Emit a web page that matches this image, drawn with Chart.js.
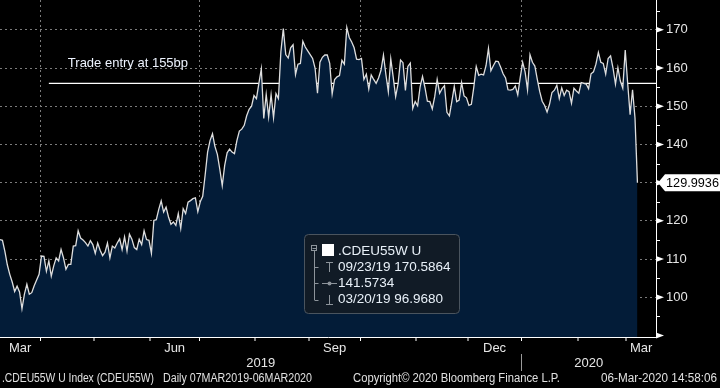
<!DOCTYPE html>
<html>
<head>
<meta charset="utf-8">
<script src="https://cdn.jsdelivr.net/npm/chart.js@4"></script>
<style>
html, body { margin: 0; padding: 0; background: #000; overflow: hidden; }
</style>
</head>
<body>
<canvas id="spreadChart" width="720" height="388"></canvas>
<script>
// first business day of the daily series, one value per weekday
const startDate = '2019-03-07';

const spread = [
    115.1,114.9,112.0,108.5,106.0,104.0,101.5,102.9,101.4,96.968,
    100.8,103.4,100.8,101.2,103.0,104.5,106.0,110.8,110.7,106.8,
    109.5,105.5,108.2,110.3,109.5,112.5,110.3,107.3,108.6,108.6,
    113.4,113.5,117.4,115.5,115.0,114.3,113.4,114.8,113.8,111.5,
    114.2,112.3,110.9,111.8,114.2,110.3,113.4,112.9,114.2,115.3,
    112.5,115.8,112.1,116.5,115.2,113.0,112.5,115.2,113.8,117.4,
    115.1,114.9,111.5,120.1,120.3,123.0,
    125.2,122.3,123.6,121.0,119.1,119.7,118.8,121.9,118.0,123.2,
    121.9,124.9,125.3,125.8,126.0,122.4,125.0,126.4,
    132.0,138.0,141.0,142.8,139.5,137.4,133.5,129.2,134.5,137.8,
    138.8,138.0,137.6,141.0,143.5,144.0,145.0,147.5,149.2,150.0,
    152.8,152.0,156.0,159.8,146.8,153.1,147.2,153.0,147.0,153.3,
    152.0,164.2,170.3,163.5,162.6,165.3,166.1,158.3,161.0,161.2,
    167.0,165.5,164.5,163.5,162.5,160.0,153.4,161.5,
    162.8,163.4,163.4,161.2,153.2,157.0,157.7,158.0,162.0,161.0,
    170.5864,168.0,166.8,165.3,162.3,162.2,162.5,157.0,158.4,154.5,
    158.2,157.0,156.0,157.4,159.4,163.4,158.3,153.8,162.4,157.6,
    152.5,155.9,162.1,161.4,154.1,160.4,161.3,149.4,151.2,150.1,
    155.0,157.8,154.9,151.3,151.2,149.3,152.5,157.0,153.4,154.6,
    155.4,148.4,147.5,151.2,155.2,151.2,151.6,156.2,152.7,152.2,
    150.2,150.5,155.0,160.4,158.1,
    158.4,158.2,160.6,165.1,159.3,160.6,161.8,161.7,160.2,158.5,
    157.4,154.3,154.2,154.4,155.3,153.0,157.5,161.5,159.0,154.3,
    163.5,161.5,160.5,157.0,153.8,151.3,150.2,148.5,150.5,153.6,
    154.2,155.5,152.0,154.8,152.8,154.2,153.8,150.8,154.7,154.0,
    153.4,156.2,156.0,155.8,154.6,158.5,159.0,161.0,164.1,161.5,
    161.2,158.4,162.5,163.2,160.0,155.8,160.1,156.6,154.7,164.7,
    156.0,147.8,154.3,146.9,129.9936
];

const tradeLevel = 156;
const tradeStart = 20;
const tradeLabel = 'Trade entry at 155bp';

const yMin = 89.6, yMax = 177.8;
const xMax = 268.6;
const yLabelled = [100, 110, 120, 130, 140, 150, 160, 170];
const yMajor = [90, 100, 110, 120, 130, 140, 150, 160, 170];
const yMinor = [95, 105, 115, 125, 135, 145, 155, 165, 175];

const monthNames = ['Jan','Feb','Mar','Apr','May','Jun','Jul','Aug','Sep','Oct','Nov','Dec'];
const labelMonths = ['Mar', 'Jun', 'Sep', 'Dec'];
const gridMonths = ['Jan', 'Apr', 'Jul', 'Oct'];

const legendTitle = '.CDEU55W U';
const legendRows = ['09/23/19 170.5864', '141.5734', '03/20/19 96.9680'];
const footerLeft = '.CDEU55W U Index (CDEU55W)';
const footerRange = 'Daily 07MAR2019-06MAR2020';
const footerCopy = 'Copyright\u00a9 2020 Bloomberg Finance L.P.';
const footerStamp = '06-Mar-2020 14:58:06';

// business days
let days = [];
let d = new Date(startDate + 'T00:00:00Z');
while (days.length < spread.length) {
    let wd = d.getUTCDay();
    if (wd > 0 && wd < 6) days.push(new Date(d));
    d = new Date(d.getTime() + 86400000);
}

// month boundaries between consecutive days
let bounds = [];
for (let i = 1; i < days.length; i++) {
    if (days[i].getUTCMonth() !== days[i - 1].getUTCMonth()) {
        bounds.push({ pos: i - 0.5, month: monthNames[days[i].getUTCMonth()], newYear: days[i].getUTCMonth() === 0 });
    }
}

let monthSpans = [];
let edges = [0].concat(bounds.map(b => b.pos), [xMax]);
for (let k = 0; k < edges.length - 1; k++) {
    let first = k === 0 ? days[0] : days[Math.ceil(edges[k])];
    monthSpans.push({ from: edges[k], to: edges[k + 1], name: monthNames[first.getUTCMonth()] });
}
let yearBounds = bounds.filter(b => b.newYear).map(b => b.pos);
let yearEdges = [0].concat(yearBounds, [xMax]);
let yearSpans = [];
for (let k = 0; k < yearEdges.length - 1; k++) {
    let first = k === 0 ? days[0] : days[Math.ceil(yearEdges[k])];
    yearSpans.push({ from: yearEdges[k], to: yearEdges[k + 1], name: String(first.getUTCFullYear()) });
}

const FONT = '"Liberation Sans", Arial, sans-serif';
Chart.defaults.font.family = FONT;

const decor = {
    id: 'decor',
    afterDraw(chart) {
        const ctx = chart.ctx;
        const xs = chart.scales.x, ys = chart.scales.y;
        const area = chart.chartArea;
        ctx.save();

        // y tick marks
        ctx.fillStyle = '#ffffff';
        ctx.strokeStyle = '#ffffff';
        ctx.lineWidth = 1;
        yMinor.forEach(v => {
            let y = Math.round(ys.getPixelForValue(v)) + 0.5;
            ctx.beginPath(); ctx.moveTo(area.right, y); ctx.lineTo(area.right + 4, y); ctx.stroke();
        });
        yMajor.forEach(v => {
            let y = ys.getPixelForValue(v);
            ctx.beginPath();
            ctx.moveTo(area.right, y - 3); ctx.lineTo(area.right + 8, y); ctx.lineTo(area.right, y + 3);
            ctx.closePath(); ctx.fill();
        });

        // month and year labels
        ctx.fillStyle = '#e6e6e6';
        ctx.font = '13px ' + FONT;
        ctx.textAlign = 'center';
        ctx.textBaseline = 'middle';
        monthSpans.forEach(s => {
            if (labelMonths.includes(s.name)) {
                let cx = (xs.getPixelForValue(s.from) + xs.getPixelForValue(s.to)) / 2;
                ctx.fillText(s.name, cx, area.bottom + 11);
            }
        });
        yearSpans.forEach(s => {
            let cx = (xs.getPixelForValue(s.from) + xs.getPixelForValue(s.to)) / 2;
            ctx.fillText(s.name, cx, area.bottom + 26);
        });
        ctx.strokeStyle = '#9a9a9a';
        yearBounds.forEach(p => {
            let x = Math.round(xs.getPixelForValue(p)) + 0.5;
            ctx.beginPath(); ctx.moveTo(x, area.bottom + 17); ctx.lineTo(x, area.bottom + 34); ctx.stroke();
        });

        // footer, squeezed a bit like the terminal font
        ctx.font = '12px ' + FONT;
        ctx.fillStyle = '#e0e0e0';
        ctx.textAlign = 'left';
        let fy = area.bottom + 42;
        ctx.fillText(footerLeft, 2, fy, 152);
        ctx.fillText(footerRange, 163, fy, 149);
        ctx.fillText(footerCopy, 353, fy, 207);
        ctx.textAlign = 'right';
        ctx.fillText(footerStamp, 717, fy, 116);

        // trade entry label
        ctx.font = '13px ' + FONT;
        ctx.textAlign = 'left';
        ctx.fillStyle = '#eef4ff';
        ctx.fillText(tradeLabel, xs.getPixelForValue(tradeStart) + 19, ys.getPixelForValue(tradeLevel) - 20);

        // last value flag
        let last = spread[spread.length - 1];
        let ly = ys.getPixelForValue(last);
        ctx.fillStyle = '#ffffff';
        ctx.beginPath();
        ctx.moveTo(area.right + 2, ly);
        ctx.lineTo(area.right + 9, ly - 8.5);
        ctx.lineTo(720, ly - 8.5);
        ctx.lineTo(720, ly + 8.5);
        ctx.lineTo(area.right + 9, ly + 8.5);
        ctx.closePath(); ctx.fill();
        ctx.fillStyle = '#000000';
        ctx.font = '13px ' + FONT;
        ctx.fillText(last.toFixed(4), area.right + 10, ly + 0.5, 53);

        // legend box
        let bx = 304.5, by = 234.5, bw = 155, bh = 79;
        ctx.beginPath();
        ctx.roundRect(bx, by, bw, bh, 4);
        ctx.fillStyle = '#111b26';
        ctx.fill();
        ctx.strokeStyle = '#4a545e';
        ctx.stroke();

        ctx.strokeStyle = '#8d949b';
        ctx.strokeRect(311.5, 245.5, 5, 5);
        ctx.beginPath(); ctx.moveTo(312.5, 248.5); ctx.lineTo(316, 248.5); ctx.stroke();
        ctx.fillStyle = '#ffffff';
        ctx.fillRect(322, 244, 12, 12);

        let rows = [267, 283, 299.5];
        ctx.beginPath();
        ctx.moveTo(314.5, 251); ctx.lineTo(314.5, rows[2] + 0.5);
        rows.forEach(r => { ctx.moveTo(314.5, Math.round(r) + 0.5); ctx.lineTo(318.5, Math.round(r) + 0.5); });
        ctx.stroke();
        // high / average / low symbols
        ctx.beginPath();
        ctx.moveTo(326, 262.5); ctx.lineTo(333, 262.5);
        ctx.moveTo(329.5, 262.5); ctx.lineTo(329.5, 272);
        ctx.moveTo(322, 283.5); ctx.lineTo(337, 283.5);
        ctx.moveTo(329.5, 295); ctx.lineTo(329.5, 304);
        ctx.moveTo(326, 304.5); ctx.lineTo(333, 304.5);
        ctx.stroke();
        ctx.beginPath(); ctx.arc(329.5, 283.5, 2, 0, Math.PI * 2); ctx.fillStyle = '#8d949b'; ctx.fill();

        ctx.fillStyle = '#e8f0f8';
        ctx.font = '13.5px ' + FONT;
        ctx.textAlign = 'left';
        ctx.fillText(legendTitle, 338, 251);
        legendRows.forEach((t, k) => ctx.fillText(t, 338, rows[k]));

        ctx.restore();
    }
};

var ctx = document.getElementById('spreadChart');
var spreadChart = new Chart(ctx, {
    type: 'line',
    data: {
        datasets: [{
            data: spread.map((v, i) => ({ x: i, y: v })),
            borderColor: '#dedede',
            borderWidth: 1.3,
            backgroundColor: '#031c38',
            fill: 'start',
            pointRadius: 0,
            tension: 0
        }, {
            data: [{ x: tradeStart, y: tradeLevel }, { x: xMax, y: tradeLevel }],
            borderColor: '#ffffff',
            borderWidth: 1.3,
            fill: false,
            pointRadius: 0
        }]
    },
    options: {
        responsive: false,
        animation: false,
        layout: { padding: 0 },
        plugins: { legend: { display: false }, tooltip: { enabled: false } },
        scales: {
            x: {
                type: 'linear',
                min: 0,
                max: xMax,
                z: 1,
                afterBuildTicks: scale => { scale.ticks = bounds.map(b => ({ value: b.pos })); },
                afterFit: scale => { scale.height = 51; scale.paddingLeft = 0; scale.paddingRight = 0; },
                ticks: { display: false },
                grid: {
                    color: '#7c7c7c',
                    lineWidth: c => (c.tick && bounds[c.index] && gridMonths.includes(bounds[c.index].month)) ? 1 : 0,
                    drawTicks: true,
                    tickLength: 4,
                    tickColor: '#ffffff',
                    tickWidth: 1
                },
                border: { display: true, color: '#ffffff', width: 1, dash: [2, 3] }
            },
            y: {
                type: 'linear',
                position: 'right',
                min: yMin,
                max: yMax,
                z: 1,
                afterBuildTicks: scale => { scale.ticks = yMajor.concat(yMinor).sort((a, b) => a - b).map(v => ({ value: v })); },
                afterFit: scale => { scale.width = 64; scale.paddingTop = 0; scale.paddingBottom = 0; },
                ticks: {
                    autoSkip: false,
                    color: '#e6e6e6',
                    font: { size: 13 },
                    padding: 3,
                    callback: v => yLabelled.includes(v) ? String(v) : ''
                },
                grid: {
                    color: '#7c7c7c',
                    lineWidth: c => (c.tick && yLabelled.includes(c.tick.value)) ? 1 : 0,
                    drawTicks: true,
                    tickLength: 7,
                    tickWidth: 0
                },
                border: { display: true, color: '#ffffff', width: 1, dash: [2, 3] }
            }
        }
    },
    plugins: [decor]
});
</script>
</body>
</html>
